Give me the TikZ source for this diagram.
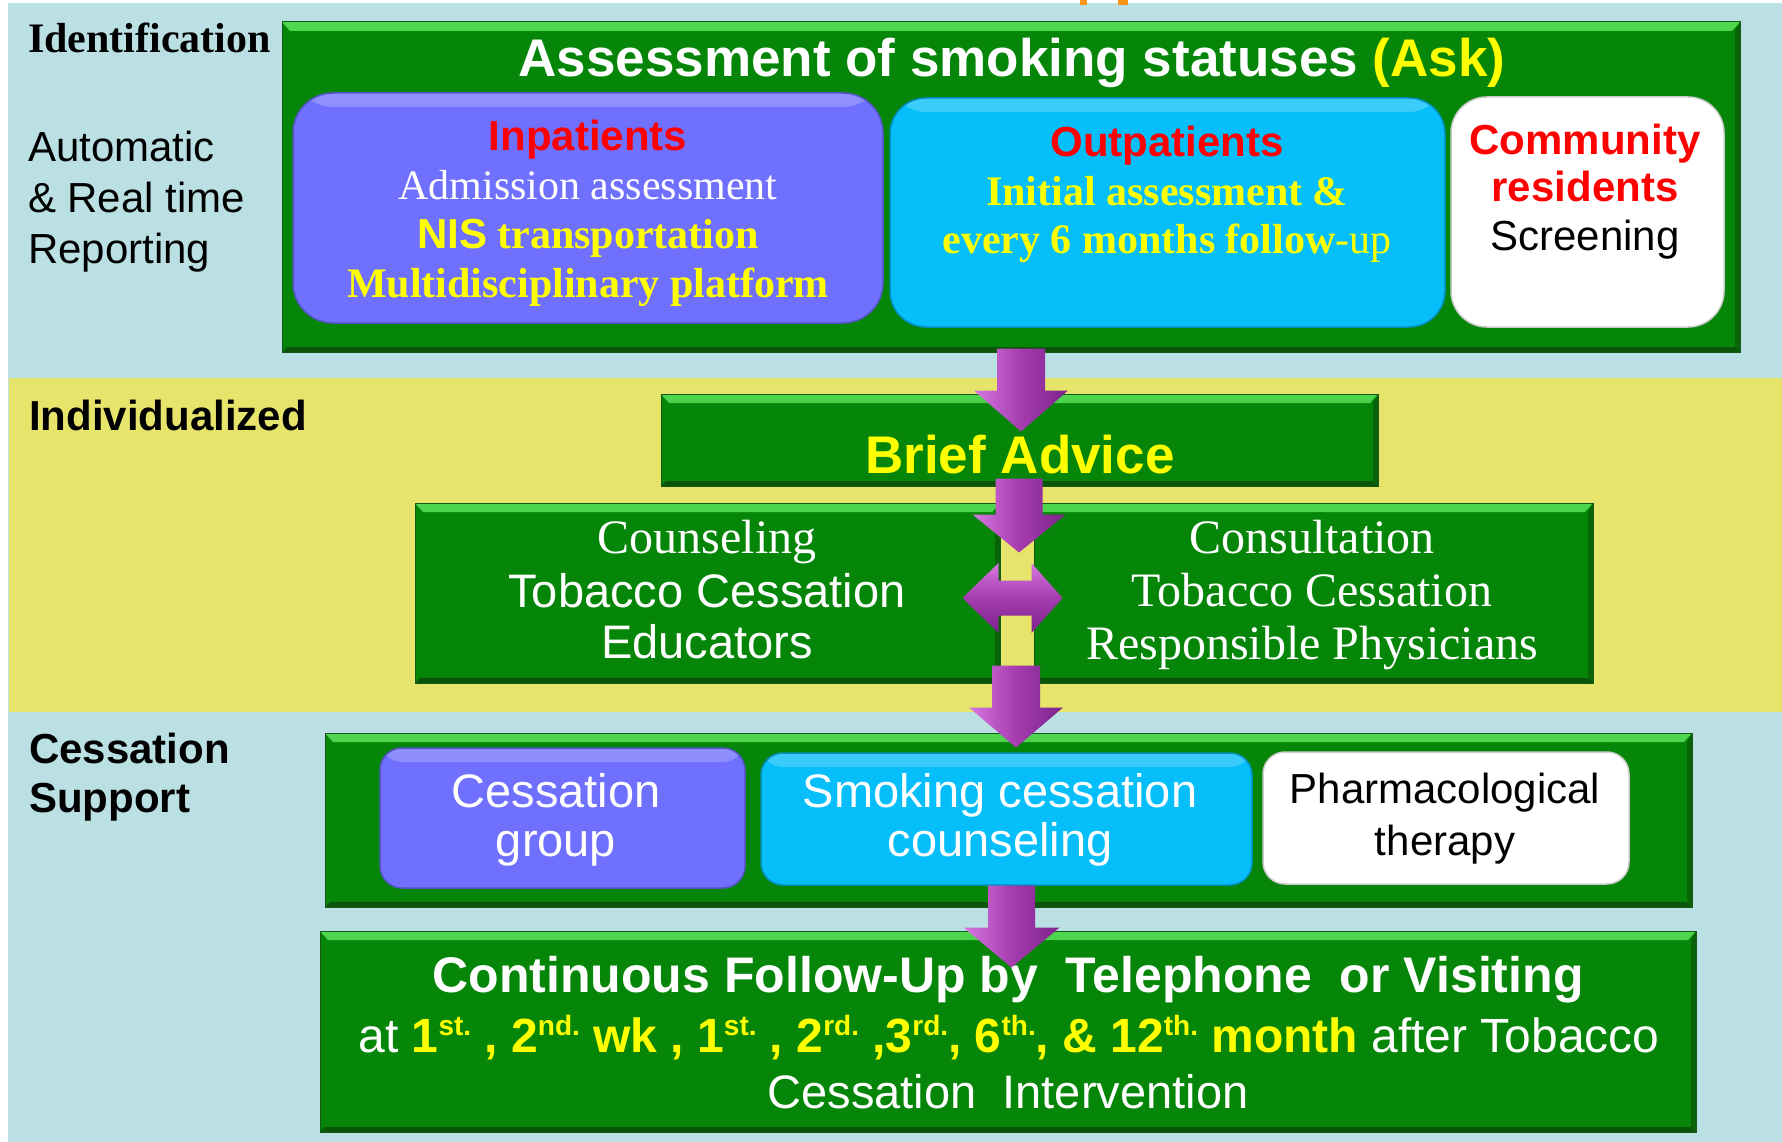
\documentclass[tikz,border=0pt]{standalone}
\usepackage{fontspec}
\setmainfont{Liberation Serif}
\newfontfamily\arialf{Liberation Sans}
\newfontfamily\tnr{Liberation Serif}
\usetikzlibrary{calc,fit}
\newcommand\setfs[1]{\fontsize{#1}{#1}\selectfont}
\newcommand\sups[1]{\raisebox{17pt}{\setfs{28}#1}}
\definecolor{bgblue}{RGB}{186,224,228}
\definecolor{bgyellow}{RGB}{231,228,108}
\definecolor{gbody}{RGB}{6,134,8}
\definecolor{gtop}{RGB}{80,215,80}
\definecolor{gbot}{RGB}{10,85,10}
\definecolor{gedge}{RGB}{20,90,20}
\definecolor{boxpurple}{RGB}{112,112,255}
\definecolor{boxcyan}{RGB}{5,190,250}
\definecolor{apurple}{RGB}{165,60,175}
\definecolor{alight}{RGB}{215,120,225}
\definecolor{adark}{RGB}{125,35,140}
\definecolor{tyellow}{RGB}{255,255,0}
\definecolor{tred}{RGB}{255,0,0}
\definecolor{orangefrag}{RGB}{250,150,20}
\newcommand\downblock[5]{%
  \shade[left color=alight, right color=adark, middle color=apurple]
    let \p1=#1, \p2=#2 in
    (\x2-#3,\y1) -- (\x2+#3,\y1) -- (\x2+#3,\y2+#5) -- (\x2+#4,\y2+#5) --
    (\x2,\y2) -- (\x2-#4,\y2+#5) -- (\x2-#3,\y2+#5) -- cycle;}
\begin{document}
\begin{tikzpicture}[x=1pt,y=-1pt,
  txt/.style={inner sep=0pt, outer sep=0pt, anchor=base},
  txtw/.style={inner sep=0pt, outer sep=0pt, anchor=base west},
  gbox/.style={fill=gbody, draw=gedge, line width=1pt, inner sep=0pt,
    path picture={
      \shade[top color=gtop, bottom color=gbody]
        (path picture bounding box.north west) -- (path picture bounding box.north east) --
        ([xshift=-8pt,yshift=-9pt]path picture bounding box.north east) --
        ([xshift=8pt,yshift=-9pt]path picture bounding box.north west) -- cycle;
      \fill[gbot]
        (path picture bounding box.south west) -- ([xshift=5pt,yshift=5pt]path picture bounding box.south west) --
        ([xshift=-5pt,yshift=5pt]path picture bounding box.south east) -- (path picture bounding box.south east) -- cycle;
      \fill[gbot!70!gbody]
        (path picture bounding box.north east) -- ([xshift=-5pt,yshift=-9pt]path picture bounding box.north east) --
        ([xshift=-5pt,yshift=5pt]path picture bounding box.south east) -- (path picture bounding box.south east) -- cycle;
    }},
  rbox/.style={inner sep=0pt, line width=1.5pt},
  glossy/.style={path picture={
      \shade[top color=#1!78!white, bottom color=#1]
        (path picture bounding box.north west) rectangle ([yshift=-14pt]path picture bounding box.north east);}},
]
\useasboundingbox (0,0) rectangle (1782,1142);
\fill[white] (0,0) rectangle (1782,1142);
\fill[bgblue] (8,3) rectangle (1782,1142);
\fill[bgyellow] (9,378) rectangle (1782,712);
\fill[orangefrag] (1080,0) rectangle (1087,5);
\fill[orangefrag] (1118,0) rectangle (1128,5);

% boxes
\node[gbox, fit={(282,22) (1740,352)}] (top) {};
\node[rbox, fill=boxpurple, draw=boxpurple!75!black, rounded corners=40pt, glossy=boxpurple, fit={(293,93) (883,323)}] (inpat) {};
\node[rbox, fill=boxcyan, draw=boxcyan!75!black, rounded corners=36pt, glossy=boxcyan, fit={(890,98) (1445,327)}] (outpat) {};
\node[rbox, fill=white, draw=black!20, rounded corners=36pt, fit={(1451,97) (1724,327)}] (comm) {};
\node[gbox, fit={(661,394) (1378,486)}] (brief) {};
\node[gbox, fit={(415,503) (1000,683)}] (couns) {};
\node[gbox, fit={(1034,503) (1593,683)}] (consult) {};
\node[gbox, fit={(325,733) (1692,907)}] (supp) {};
\node[rbox, fill=boxpurple, draw=boxpurple!75!black, rounded corners=22pt, glossy=boxpurple, fit={(380,748) (745,888)}] (group) {};
\node[rbox, fill=boxcyan, draw=boxcyan!75!black, rounded corners=22pt, glossy=boxcyan, fit={(761,753) (1252,885)}] (smoke) {};
\node[rbox, fill=white, draw=black!20, rounded corners=22pt, fit={(1263,752) (1629,884)}] (pharm) {};
\node[gbox, fit={(320,931) (1696,1132)}] (follow) {};

% left labels
\node[txtw, font={\tnr\bfseries\setfs{42}}] (lid) at (28,53) {Identification};
\node[txtw, font={\arialf\setfs{42}}] (la1) at (28,162) {Automatic};
\node[txtw, font={\arialf\setfs{42}}] (la2) at (28,212) {\& Real time};
\node[txtw, font={\arialf\setfs{42}}] (la3) at (28,263) {Reporting};
\node[txtw, font={\arialf\bfseries\setfs{42}}] (lind) at (29,430) {Individualized};
\node[txtw, font={\arialf\bfseries\setfs{42}}] (lcs1) at (29,763) {Cessation};
\node[txtw, font={\arialf\bfseries\setfs{42}}] (lcs2) at (29,812) {Support};

% title
\node[txt, font={\arialf\bfseries\setfs{53}}, text=white] (ttitle) at (1012,77) {Assessment of smoking statuses \textcolor{tyellow}{(Ask)}};

% inpatients
\node[txt, font={\arialf\bfseries\setfs{42}}, text=tred] (ti1) at (588,151) {Inpatients};
\node[txt, font={\tnr\setfs{42}}, text=white] (ti2) at (588,200) {Admission assessment};
\node[txt, font={\tnr\bfseries\setfs{42}}, text=tyellow] (ti3) at (588,248) {{\arialf NIS} transportation};
\node[txt, font={\tnr\bfseries\setfs{42}}, text=tyellow] (ti4) at (588,297) {Multidisciplinary platform};

% outpatients
\node[txt, font={\arialf\bfseries\setfs{42}}, text=tred] (to1) at (1167,157) {Outpatients};
\node[txt, font={\tnr\bfseries\setfs{42}}, text=tyellow] (to2) at (1167,205) {Initial assessment \&};
\node[txt, font={\tnr\bfseries\setfs{42}}, text=tyellow] (to3) at (1167,253) {every 6 months follow{\mdseries -up}};

% community
\node[txt, font={\arialf\bfseries\setfs{42}}, text=tred] (tc1) at (1585,155) {Community};
\node[txt, font={\arialf\bfseries\setfs{42}}, text=tred] (tc2) at (1585,202) {residents};
\node[txt, font={\arialf\setfs{42}}, text=black] (tc3) at (1585,250) {Screening};

% brief advice
\node[txt, font={\arialf\bfseries\setfs{53}}, text=tyellow] (tb) at (1020,473) {Brief Advice};

% counseling / consultation
\node[txt, font={\tnr\setfs{48}}, text=white] (tk1) at (707,553) {Counseling};
\node[txt, font={\arialf\setfs{47}}, text=white] (tk2) at (707,607) {Tobacco Cessation};
\node[txt, font={\arialf\setfs{47}}, text=white] (tk3) at (707,658) {Educators};
\node[txt, font={\tnr\setfs{48}}, text=white] (tn1) at (1312,553) {Consultation};
\node[txt, font={\tnr\setfs{48}}, text=white] (tn2) at (1312,606) {Tobacco Cessation};
\node[txt, font={\tnr\setfs{48}}, text=white] (tn3) at (1312,659) {Responsible Physicians};

% cessation support
\node[txt, font={\arialf\setfs{47}}, text=white] (tg1) at (556,807) {Cessation};
\node[txt, font={\arialf\setfs{47}}, text=white] (tg2) at (556,856) {group};
\node[txt, font={\arialf\setfs{47}}, text=white] (ts1) at (1000,807) {Smoking cessation};
\node[txt, font={\arialf\setfs{47}}, text=white] (ts2) at (1000,856) {counseling};
\node[txt, font={\arialf\setfs{42}}, text=black] (tp1) at (1445,803) {Pharmacological};
\node[txt, font={\arialf\setfs{42}}, text=black] (tp2) at (1445,855) {therapy};

% follow-up
\node[txt, font={\arialf\bfseries\setfs{50}}, text=white] (tf1) at (1008,992) {Continuous Follow-Up by\ \ Telephone\ \ or Visiting};
\node[txt, font={\arialf\setfs{48}}, text=white] (tf2) at (1009,1052) {at {\bfseries\color{tyellow}1\sups{st.} , 2\sups{nd.} wk , 1\sups{st.} , 2\sups{rd.} ,3\sups{rd.}, 6\sups{th.}, \& 12\sups{th.} month} after Tobacco};
\node[txt, font={\arialf\setfs{47}}, text=white] (tf3) at (1008,1108) {Cessation\ \ Intervention};

% arrows
\downblock{($(top.south)+(10,-4)$)}{($(brief.north)+(1.5,38)$)}{24pt}{47pt}{41pt}
\downblock{($(brief.south)+(-1,-8)$)}{($(couns.north east)+(18.5,50)$)}{23.5pt}{46.5pt}{38pt}
\shade[top color=alight, bottom color=adark, middle color=apurple]
  let \p1=($(couns.east)+(-38,5)$), \p2=($(consult.west)+(29,5)$) in
  (\x1,\y1) -- (\x1+36pt,\y1+35pt) -- (\x1+36pt,\y1+17.5pt) -- (\x2-31pt,\y1+17.5pt) --
  (\x2-31pt,\y1+35pt) -- (\x2,\y1) -- (\x2-31pt,\y1-35pt) -- (\x2-31pt,\y1-17.5pt) --
  (\x1+36pt,\y1-17.5pt) -- (\x1+36pt,\y1-35pt) -- cycle;
\downblock{($(couns.south east)+(16,-18)$)}{($(supp.north)+(7.5,15)$)}{24pt}{47pt}{40pt}
\downblock{($(supp.south)+(3,-22)$)}{($(follow.north)+(3.5,37)$)}{23.5pt}{48pt}{40pt}
\end{tikzpicture}
\end{document}
